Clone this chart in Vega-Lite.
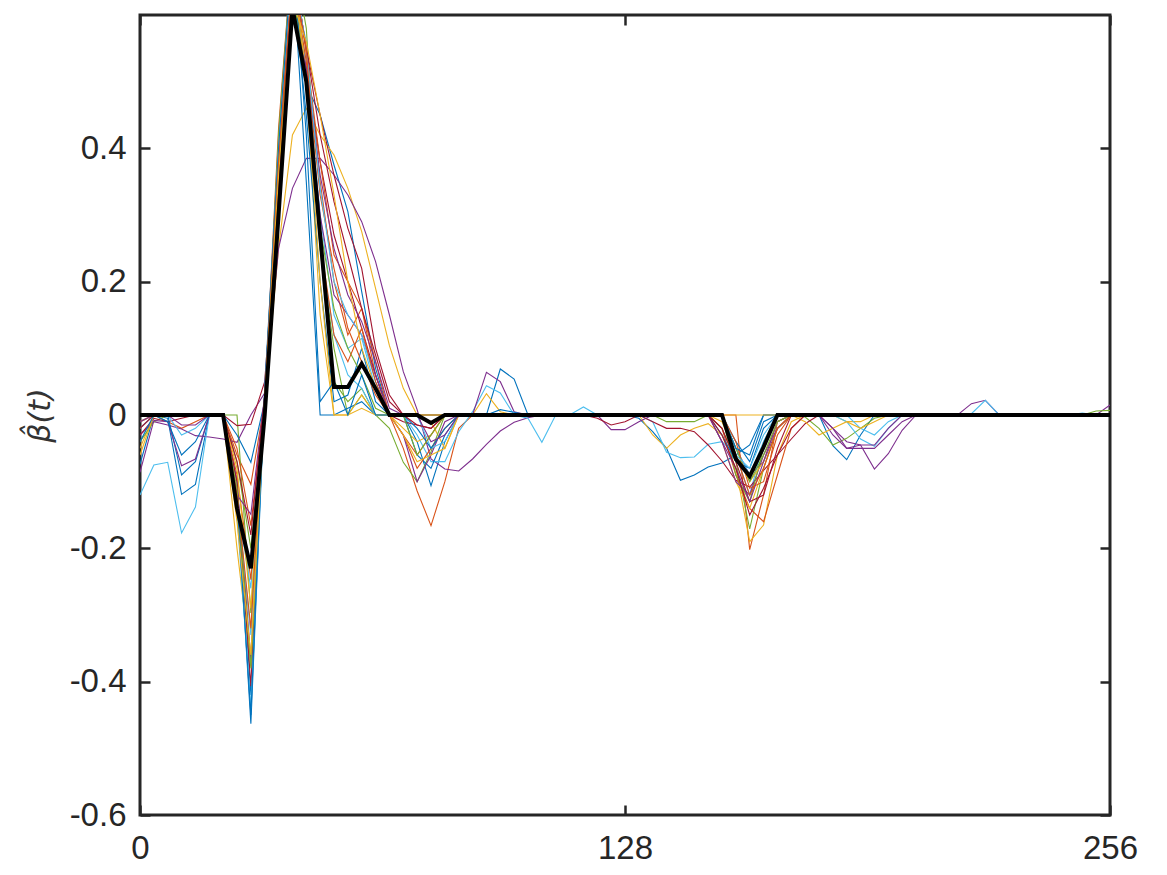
{
"$schema": "https://vega.github.io/schema/vega-lite/v6.json",
"width": 970, "height": 800,
"autosize": {"type": "none"},
"padding": {"left": 140, "top": 15, "right": 57, "bottom": 60},
"background": "white",
"config": {"view": {"stroke": "#262626", "strokeWidth": 3}},
"datasets": {
"curves": [
{"s":1,"t":0,"v":-0.074},{"s":1,"t":3.66,"v":0},{"s":1,"t":7.31,"v":-0.005},{"s":1,"t":10.97,"v":-0.119},{"s":1,"t":14.63,"v":-0.104},{"s":1,"t":18.29,"v":0},{"s":1,"t":21.94,"v":0},{"s":1,"t":25.6,"v":-0.12},{"s":1,"t":29.26,"v":-0.463},{"s":1,"t":32.91,"v":0.03},{"s":1,"t":36.57,"v":0.35},{"s":1,"t":40.23,"v":0.7},{"s":1,"t":43.89,"v":0.495},{"s":1,"t":47.54,"v":0.45},{"s":1,"t":51.2,"v":0.375},{"s":1,"t":54.86,"v":0.305},{"s":1,"t":58.51,"v":0.185},{"s":1,"t":62.17,"v":0.07},{"s":1,"t":65.83,"v":0},{"s":1,"t":69.49,"v":0},{"s":1,"t":73.14,"v":-0.04},{"s":1,"t":76.8,"v":-0.106},{"s":1,"t":80.46,"v":-0.04},{"s":1,"t":84.11,"v":0},{"s":1,"t":91.43,"v":0},{"s":1,"t":95.09,"v":0.069},{"s":1,"t":98.74,"v":0.054},{"s":1,"t":102.4,"v":0},{"s":1,"t":128,"v":0},{"s":1,"t":131.66,"v":-0.005},{"s":1,"t":135.31,"v":-0.025},{"s":1,"t":138.97,"v":-0.05},{"s":1,"t":142.63,"v":-0.098},{"s":1,"t":146.29,"v":-0.09},{"s":1,"t":149.94,"v":-0.078},{"s":1,"t":153.6,"v":-0.072},{"s":1,"t":157.26,"v":-0.06},{"s":1,"t":160.91,"v":-0.045},{"s":1,"t":164.57,"v":0},{"s":1,"t":179.2,"v":0},{"s":1,"t":182.86,"v":-0.046},{"s":1,"t":186.51,"v":-0.067},{"s":1,"t":190.17,"v":-0.03},{"s":1,"t":193.83,"v":0},{"s":1,"t":256,"v":0},
{"s":2,"t":0,"v":-0.02},{"s":2,"t":3.66,"v":0},{"s":2,"t":7.31,"v":-0.01},{"s":2,"t":10.97,"v":-0.02},{"s":2,"t":14.63,"v":-0.01},{"s":2,"t":18.29,"v":0},{"s":2,"t":21.94,"v":0},{"s":2,"t":25.6,"v":-0.06},{"s":2,"t":29.26,"v":-0.104},{"s":2,"t":32.91,"v":0.02},{"s":2,"t":36.57,"v":0.4},{"s":2,"t":40.23,"v":0.68},{"s":2,"t":43.89,"v":0.55},{"s":2,"t":47.54,"v":0.35},{"s":2,"t":51.2,"v":0.2},{"s":2,"t":54.86,"v":0.12},{"s":2,"t":58.51,"v":0.16},{"s":2,"t":62.17,"v":0.06},{"s":2,"t":65.83,"v":0},{"s":2,"t":69.49,"v":-0.05},{"s":2,"t":73.14,"v":-0.114},{"s":2,"t":76.8,"v":-0.166},{"s":2,"t":80.46,"v":-0.1},{"s":2,"t":84.11,"v":-0.02},{"s":2,"t":87.77,"v":0},{"s":2,"t":157.26,"v":0},{"s":2,"t":160.91,"v":-0.202},{"s":2,"t":164.57,"v":-0.12},{"s":2,"t":168.23,"v":-0.01},{"s":2,"t":171.89,"v":0},{"s":2,"t":256,"v":0},
{"s":3,"t":0,"v":-0.05},{"s":3,"t":3.66,"v":0},{"s":3,"t":21.94,"v":0},{"s":3,"t":25.6,"v":-0.15},{"s":3,"t":29.26,"v":-0.322},{"s":3,"t":32.91,"v":0.02},{"s":3,"t":36.57,"v":0.25},{"s":3,"t":40.23,"v":0.42},{"s":3,"t":43.89,"v":0.46},{"s":3,"t":47.54,"v":0.42},{"s":3,"t":51.2,"v":0.39},{"s":3,"t":54.86,"v":0.34},{"s":3,"t":58.51,"v":0.275},{"s":3,"t":62.17,"v":0.19},{"s":3,"t":65.83,"v":0.104},{"s":3,"t":69.49,"v":0.04},{"s":3,"t":73.14,"v":0},{"s":3,"t":76.8,"v":-0.01},{"s":3,"t":80.46,"v":-0.05},{"s":3,"t":84.11,"v":0},{"s":3,"t":87.77,"v":0},{"s":3,"t":91.43,"v":0.032},{"s":3,"t":95.09,"v":0.005},{"s":3,"t":98.74,"v":0},{"s":3,"t":131.66,"v":0},{"s":3,"t":135.31,"v":-0.03},{"s":3,"t":138.97,"v":-0.05},{"s":3,"t":142.63,"v":-0.03},{"s":3,"t":146.29,"v":-0.02},{"s":3,"t":149.94,"v":-0.013},{"s":3,"t":153.6,"v":-0.03},{"s":3,"t":157.26,"v":-0.08},{"s":3,"t":160.91,"v":-0.19},{"s":3,"t":164.57,"v":-0.165},{"s":3,"t":168.23,"v":-0.06},{"s":3,"t":171.89,"v":-0.01},{"s":3,"t":175.54,"v":0},{"s":3,"t":182.86,"v":0},{"s":3,"t":186.51,"v":-0.01},{"s":3,"t":190.17,"v":-0.01},{"s":3,"t":193.83,"v":0},{"s":3,"t":256,"v":0},
{"s":4,"t":0,"v":-0.03},{"s":4,"t":3.66,"v":-0.01},{"s":4,"t":7.31,"v":-0.015},{"s":4,"t":10.97,"v":-0.021},{"s":4,"t":14.63,"v":-0.031},{"s":4,"t":18.29,"v":-0.033},{"s":4,"t":21.94,"v":-0.036},{"s":4,"t":25.6,"v":-0.041},{"s":4,"t":29.26,"v":0},{"s":4,"t":32.91,"v":0.033},{"s":4,"t":36.57,"v":0.25},{"s":4,"t":40.23,"v":0.34},{"s":4,"t":43.89,"v":0.385},{"s":4,"t":47.54,"v":0.385},{"s":4,"t":51.2,"v":0.36},{"s":4,"t":54.86,"v":0.33},{"s":4,"t":58.51,"v":0.29},{"s":4,"t":62.17,"v":0.23},{"s":4,"t":65.83,"v":0.15},{"s":4,"t":69.49,"v":0.065},{"s":4,"t":73.14,"v":0.008},{"s":4,"t":76.8,"v":-0.066},{"s":4,"t":80.46,"v":-0.081},{"s":4,"t":84.11,"v":-0.084},{"s":4,"t":87.77,"v":-0.066},{"s":4,"t":91.43,"v":-0.044},{"s":4,"t":95.09,"v":-0.024},{"s":4,"t":98.74,"v":-0.011},{"s":4,"t":102.4,"v":-0.004},{"s":4,"t":106.06,"v":0},{"s":4,"t":120.69,"v":0},{"s":4,"t":124.34,"v":-0.022},{"s":4,"t":128,"v":-0.022},{"s":4,"t":131.66,"v":-0.01},{"s":4,"t":135.31,"v":0},{"s":4,"t":153.6,"v":0},{"s":4,"t":157.26,"v":-0.05},{"s":4,"t":160.91,"v":-0.09},{"s":4,"t":164.57,"v":-0.07},{"s":4,"t":168.23,"v":-0.02},{"s":4,"t":171.89,"v":0},{"s":4,"t":179.2,"v":0},{"s":4,"t":182.86,"v":-0.02},{"s":4,"t":186.51,"v":-0.04},{"s":4,"t":190.17,"v":-0.045},{"s":4,"t":193.83,"v":-0.081},{"s":4,"t":197.49,"v":-0.058},{"s":4,"t":201.14,"v":-0.023},{"s":4,"t":204.8,"v":0},{"s":4,"t":215.77,"v":0},{"s":4,"t":219.43,"v":0.017},{"s":4,"t":223.09,"v":0.022},{"s":4,"t":226.74,"v":0},{"s":4,"t":252.34,"v":0},{"s":4,"t":256,"v":0.015},
{"s":5,"t":0,"v":-0.04},{"s":5,"t":3.66,"v":-0.01},{"s":5,"t":7.31,"v":0},{"s":5,"t":25.6,"v":0},{"s":5,"t":29.26,"v":-0.297},{"s":5,"t":32.91,"v":0.02},{"s":5,"t":36.57,"v":0.38},{"s":5,"t":40.23,"v":0.66},{"s":5,"t":43.89,"v":0.5},{"s":5,"t":47.54,"v":0.25},{"s":5,"t":51.2,"v":0.1},{"s":5,"t":54.86,"v":0},{"s":5,"t":58.51,"v":0.03},{"s":5,"t":62.17,"v":0},{"s":5,"t":65.83,"v":-0.02},{"s":5,"t":69.49,"v":-0.071},{"s":5,"t":73.14,"v":-0.1},{"s":5,"t":76.8,"v":-0.055},{"s":5,"t":80.46,"v":0},{"s":5,"t":135.31,"v":0},{"s":5,"t":138.97,"v":-0.01},{"s":5,"t":146.29,"v":-0.01},{"s":5,"t":149.94,"v":0},{"s":5,"t":153.6,"v":-0.02},{"s":5,"t":157.26,"v":-0.07},{"s":5,"t":160.91,"v":-0.171},{"s":5,"t":164.57,"v":-0.08},{"s":5,"t":168.23,"v":-0.02},{"s":5,"t":171.89,"v":0},{"s":5,"t":175.54,"v":-0.003},{"s":5,"t":179.2,"v":-0.02},{"s":5,"t":182.86,"v":-0.045},{"s":5,"t":186.51,"v":-0.035},{"s":5,"t":190.17,"v":-0.02},{"s":5,"t":193.83,"v":-0.005},{"s":5,"t":197.49,"v":0},{"s":5,"t":248.69,"v":0},{"s":5,"t":252.34,"v":0.006},{"s":5,"t":256,"v":0.007},
{"s":6,"t":0,"v":-0.12},{"s":6,"t":3.66,"v":-0.075},{"s":6,"t":7.31,"v":-0.071},{"s":6,"t":10.97,"v":-0.177},{"s":6,"t":14.63,"v":-0.138},{"s":6,"t":18.29,"v":0},{"s":6,"t":21.94,"v":0},{"s":6,"t":25.6,"v":-0.13},{"s":6,"t":29.26,"v":-0.26},{"s":6,"t":32.91,"v":0.03},{"s":6,"t":36.57,"v":0.35},{"s":6,"t":40.23,"v":0.68},{"s":6,"t":43.89,"v":0.52},{"s":6,"t":47.54,"v":0.3},{"s":6,"t":51.2,"v":0.15},{"s":6,"t":54.86,"v":0.1},{"s":6,"t":58.51,"v":0.115},{"s":6,"t":62.17,"v":0.04},{"s":6,"t":65.83,"v":0},{"s":6,"t":69.49,"v":0},{"s":6,"t":73.14,"v":-0.03},{"s":6,"t":76.8,"v":-0.07},{"s":6,"t":80.46,"v":-0.07},{"s":6,"t":84.11,"v":-0.025},{"s":6,"t":87.77,"v":0.005},{"s":6,"t":91.43,"v":0.044},{"s":6,"t":95.09,"v":0.033},{"s":6,"t":98.74,"v":0},{"s":6,"t":102.4,"v":-0.005},{"s":6,"t":106.06,"v":-0.041},{"s":6,"t":109.71,"v":0},{"s":6,"t":113.37,"v":0},{"s":6,"t":117.03,"v":0.012},{"s":6,"t":120.69,"v":0},{"s":6,"t":131.66,"v":0},{"s":6,"t":135.31,"v":-0.01},{"s":6,"t":138.97,"v":-0.056},{"s":6,"t":142.63,"v":-0.064},{"s":6,"t":146.29,"v":-0.063},{"s":6,"t":149.94,"v":-0.044},{"s":6,"t":153.6,"v":-0.04},{"s":6,"t":157.26,"v":-0.06},{"s":6,"t":160.91,"v":-0.12},{"s":6,"t":164.57,"v":-0.04},{"s":6,"t":168.23,"v":0},{"s":6,"t":182.86,"v":0},{"s":6,"t":186.51,"v":-0.01},{"s":6,"t":190.17,"v":-0.036},{"s":6,"t":193.83,"v":-0.047},{"s":6,"t":197.49,"v":-0.02},{"s":6,"t":201.14,"v":0},{"s":6,"t":215.77,"v":0},{"s":6,"t":219.43,"v":0.002},{"s":6,"t":223.09,"v":0.022},{"s":6,"t":226.74,"v":0},{"s":6,"t":245.03,"v":0},{"s":6,"t":248.69,"v":0.003},{"s":6,"t":252.34,"v":0},{"s":6,"t":256,"v":0},
{"s":7,"t":0,"v":-0.03},{"s":7,"t":3.66,"v":-0.005},{"s":7,"t":7.31,"v":-0.01},{"s":7,"t":10.97,"v":-0.005},{"s":7,"t":14.63,"v":0},{"s":7,"t":21.94,"v":0},{"s":7,"t":25.6,"v":-0.016},{"s":7,"t":29.26,"v":-0.014},{"s":7,"t":32.91,"v":0.05},{"s":7,"t":36.57,"v":0.33},{"s":7,"t":40.23,"v":0.62},{"s":7,"t":43.89,"v":0.52},{"s":7,"t":47.54,"v":0.38},{"s":7,"t":51.2,"v":0.27},{"s":7,"t":54.86,"v":0.2},{"s":7,"t":58.51,"v":0.13},{"s":7,"t":62.17,"v":0.06},{"s":7,"t":65.83,"v":0},{"s":7,"t":69.49,"v":-0.01},{"s":7,"t":73.14,"v":-0.015},{"s":7,"t":76.8,"v":-0.02},{"s":7,"t":80.46,"v":0},{"s":7,"t":117.03,"v":0},{"s":7,"t":120.69,"v":-0.005},{"s":7,"t":124.34,"v":-0.015},{"s":7,"t":128,"v":-0.01},{"s":7,"t":131.66,"v":0},{"s":7,"t":135.31,"v":-0.01},{"s":7,"t":138.97,"v":-0.02},{"s":7,"t":142.63,"v":-0.02},{"s":7,"t":146.29,"v":-0.025},{"s":7,"t":149.94,"v":-0.045},{"s":7,"t":153.6,"v":-0.069},{"s":7,"t":157.26,"v":-0.098},{"s":7,"t":160.91,"v":-0.108},{"s":7,"t":164.57,"v":-0.083},{"s":7,"t":168.23,"v":-0.06},{"s":7,"t":171.89,"v":-0.036},{"s":7,"t":175.54,"v":-0.013},{"s":7,"t":179.2,"v":0},{"s":7,"t":256,"v":0},
{"s":8,"t":0,"v":-0.01},{"s":8,"t":3.66,"v":0},{"s":8,"t":7.31,"v":0},{"s":8,"t":10.97,"v":-0.09},{"s":8,"t":14.63,"v":-0.07},{"s":8,"t":18.29,"v":0},{"s":8,"t":21.94,"v":0},{"s":8,"t":25.6,"v":-0.1},{"s":8,"t":29.26,"v":-0.42},{"s":8,"t":32.91,"v":0.03},{"s":8,"t":36.57,"v":0.4},{"s":8,"t":40.23,"v":0.68},{"s":8,"t":43.89,"v":0.35},{"s":8,"t":47.54,"v":0},{"s":8,"t":51.2,"v":0},{"s":8,"t":54.86,"v":0.01},{"s":8,"t":58.51,"v":0.02},{"s":8,"t":62.17,"v":0},{"s":8,"t":69.49,"v":0},{"s":8,"t":73.14,"v":-0.06},{"s":8,"t":76.8,"v":-0.08},{"s":8,"t":80.46,"v":-0.03},{"s":8,"t":84.11,"v":0},{"s":8,"t":153.6,"v":0},{"s":8,"t":157.26,"v":-0.04},{"s":8,"t":160.91,"v":-0.07},{"s":8,"t":164.57,"v":-0.01},{"s":8,"t":168.23,"v":0},{"s":8,"t":256,"v":0},
{"s":9,"t":0,"v":0},{"s":9,"t":21.94,"v":0},{"s":9,"t":25.6,"v":-0.09},{"s":9,"t":29.26,"v":-0.247},{"s":9,"t":32.91,"v":0.02},{"s":9,"t":36.57,"v":0.43},{"s":9,"t":40.23,"v":0.7},{"s":9,"t":43.89,"v":0.54},{"s":9,"t":47.54,"v":0.38},{"s":9,"t":51.2,"v":0.24},{"s":9,"t":54.86,"v":0.2},{"s":9,"t":58.51,"v":0.16},{"s":9,"t":62.17,"v":0.08},{"s":9,"t":65.83,"v":0},{"s":9,"t":69.49,"v":-0.03},{"s":9,"t":73.14,"v":-0.08},{"s":9,"t":76.8,"v":-0.05},{"s":9,"t":80.46,"v":-0.02},{"s":9,"t":84.11,"v":0},{"s":9,"t":149.94,"v":0},{"s":9,"t":153.6,"v":-0.02},{"s":9,"t":157.26,"v":-0.09},{"s":9,"t":160.91,"v":-0.14},{"s":9,"t":164.57,"v":-0.16},{"s":9,"t":168.23,"v":-0.09},{"s":9,"t":171.89,"v":-0.02},{"s":9,"t":175.54,"v":0},{"s":9,"t":256,"v":0},
{"s":10,"t":0,"v":-0.06},{"s":10,"t":3.66,"v":0},{"s":10,"t":21.94,"v":0},{"s":10,"t":25.6,"v":-0.2},{"s":10,"t":29.26,"v":-0.377},{"s":10,"t":32.91,"v":0.02},{"s":10,"t":36.57,"v":0.38},{"s":10,"t":40.23,"v":0.66},{"s":10,"t":43.89,"v":0.5},{"s":10,"t":47.54,"v":0.15},{"s":10,"t":51.2,"v":0},{"s":10,"t":54.86,"v":0},{"s":10,"t":58.51,"v":0.03},{"s":10,"t":62.17,"v":0},{"s":10,"t":65.83,"v":0},{"s":10,"t":69.49,"v":-0.02},{"s":10,"t":73.14,"v":-0.04},{"s":10,"t":76.8,"v":-0.03},{"s":10,"t":80.46,"v":0},{"s":10,"t":149.94,"v":0},{"s":10,"t":153.6,"v":-0.04},{"s":10,"t":157.26,"v":-0.1},{"s":10,"t":160.91,"v":-0.14},{"s":10,"t":164.57,"v":-0.08},{"s":10,"t":168.23,"v":-0.02},{"s":10,"t":171.89,"v":0},{"s":10,"t":256,"v":0},
{"s":11,"t":0,"v":-0.086},{"s":11,"t":3.66,"v":-0.008},{"s":11,"t":7.31,"v":-0.01},{"s":11,"t":10.97,"v":-0.076},{"s":11,"t":14.63,"v":-0.066},{"s":11,"t":18.29,"v":0},{"s":11,"t":21.94,"v":0},{"s":11,"t":25.6,"v":-0.1},{"s":11,"t":29.26,"v":-0.367},{"s":11,"t":32.91,"v":0.03},{"s":11,"t":36.57,"v":0.35},{"s":11,"t":40.23,"v":0.64},{"s":11,"t":43.89,"v":0.5},{"s":11,"t":47.54,"v":0.3},{"s":11,"t":51.2,"v":0.18},{"s":11,"t":54.86,"v":0.15},{"s":11,"t":58.51,"v":0.12},{"s":11,"t":62.17,"v":0.06},{"s":11,"t":65.83,"v":0},{"s":11,"t":69.49,"v":-0.03},{"s":11,"t":73.14,"v":-0.1},{"s":11,"t":76.8,"v":-0.06},{"s":11,"t":80.46,"v":-0.01},{"s":11,"t":84.11,"v":0},{"s":11,"t":87.77,"v":0},{"s":11,"t":91.43,"v":0.064},{"s":11,"t":95.09,"v":0.05},{"s":11,"t":98.74,"v":0.005},{"s":11,"t":102.4,"v":0},{"s":11,"t":149.94,"v":0},{"s":11,"t":153.6,"v":-0.04},{"s":11,"t":157.26,"v":-0.1},{"s":11,"t":160.91,"v":-0.12},{"s":11,"t":164.57,"v":-0.06},{"s":11,"t":168.23,"v":-0.02},{"s":11,"t":171.89,"v":0},{"s":11,"t":179.2,"v":0},{"s":11,"t":182.86,"v":-0.03},{"s":11,"t":186.51,"v":-0.05},{"s":11,"t":190.17,"v":-0.05},{"s":11,"t":193.83,"v":-0.05},{"s":11,"t":197.49,"v":-0.03},{"s":11,"t":201.14,"v":-0.01},{"s":11,"t":204.8,"v":0},{"s":11,"t":256,"v":0},
{"s":12,"t":0,"v":0},{"s":12,"t":21.94,"v":0},{"s":12,"t":25.6,"v":-0.07},{"s":12,"t":29.26,"v":-0.2},{"s":12,"t":32.91,"v":0.01},{"s":12,"t":36.57,"v":0.42},{"s":12,"t":40.23,"v":0.7},{"s":12,"t":43.89,"v":0.58},{"s":12,"t":47.54,"v":0.25},{"s":12,"t":51.2,"v":0.05},{"s":12,"t":54.86,"v":0.02},{"s":12,"t":58.51,"v":0.04},{"s":12,"t":62.17,"v":0},{"s":12,"t":153.6,"v":0},{"s":12,"t":157.26,"v":-0.09},{"s":12,"t":160.91,"v":-0.13},{"s":12,"t":164.57,"v":-0.05},{"s":12,"t":168.23,"v":0},{"s":12,"t":256,"v":0},
{"s":13,"t":0,"v":-0.02},{"s":13,"t":3.66,"v":0},{"s":13,"t":7.31,"v":0},{"s":13,"t":10.97,"v":-0.03},{"s":13,"t":14.63,"v":-0.02},{"s":13,"t":18.29,"v":0},{"s":13,"t":21.94,"v":0},{"s":13,"t":25.6,"v":-0.12},{"s":13,"t":29.26,"v":-0.33},{"s":13,"t":32.91,"v":0.03},{"s":13,"t":36.57,"v":0.37},{"s":13,"t":40.23,"v":0.65},{"s":13,"t":43.89,"v":0.56},{"s":13,"t":47.54,"v":0.25},{"s":13,"t":51.2,"v":0.12},{"s":13,"t":54.86,"v":0.06},{"s":13,"t":58.51,"v":0.04},{"s":13,"t":62.17,"v":0},{"s":13,"t":73.14,"v":0},{"s":13,"t":76.8,"v":-0.05},{"s":13,"t":80.46,"v":-0.04},{"s":13,"t":84.11,"v":0},{"s":13,"t":153.6,"v":0},{"s":13,"t":157.26,"v":-0.05},{"s":13,"t":160.91,"v":-0.09},{"s":13,"t":164.57,"v":-0.04},{"s":13,"t":168.23,"v":0},{"s":13,"t":186.51,"v":0},{"s":13,"t":190.17,"v":-0.02},{"s":13,"t":193.83,"v":-0.03},{"s":13,"t":197.49,"v":-0.01},{"s":13,"t":201.14,"v":0},{"s":13,"t":256,"v":0},
{"s":14,"t":0,"v":-0.02},{"s":14,"t":3.66,"v":0},{"s":14,"t":21.94,"v":0},{"s":14,"t":25.6,"v":-0.1},{"s":14,"t":29.26,"v":-0.407},{"s":14,"t":32.91,"v":0.03},{"s":14,"t":36.57,"v":0.38},{"s":14,"t":40.23,"v":0.68},{"s":14,"t":43.89,"v":0.55},{"s":14,"t":47.54,"v":0.42},{"s":14,"t":51.2,"v":0.32},{"s":14,"t":54.86,"v":0.24},{"s":14,"t":58.51,"v":0.16},{"s":14,"t":62.17,"v":0.09},{"s":14,"t":65.83,"v":0.02},{"s":14,"t":69.49,"v":0},{"s":14,"t":73.14,"v":0},{"s":14,"t":76.8,"v":-0.01},{"s":14,"t":80.46,"v":0},{"s":14,"t":149.94,"v":0},{"s":14,"t":153.6,"v":-0.02},{"s":14,"t":157.26,"v":-0.07},{"s":14,"t":160.91,"v":-0.13},{"s":14,"t":164.57,"v":-0.12},{"s":14,"t":168.23,"v":-0.05},{"s":14,"t":171.89,"v":0},{"s":14,"t":256,"v":0},
{"s":15,"t":0,"v":-0.04},{"s":15,"t":3.66,"v":0},{"s":15,"t":7.31,"v":-0.01},{"s":15,"t":10.97,"v":-0.06},{"s":15,"t":14.63,"v":-0.04},{"s":15,"t":18.29,"v":0},{"s":15,"t":21.94,"v":0},{"s":15,"t":25.6,"v":-0.03},{"s":15,"t":29.26,"v":-0.071},{"s":15,"t":32.91,"v":0.02},{"s":15,"t":36.57,"v":0.3},{"s":15,"t":40.23,"v":0.65},{"s":15,"t":43.89,"v":0.45},{"s":15,"t":47.54,"v":0.2},{"s":15,"t":51.2,"v":0.02},{"s":15,"t":54.86,"v":0.03},{"s":15,"t":58.51,"v":0.1},{"s":15,"t":62.17,"v":0.02},{"s":15,"t":65.83,"v":0},{"s":15,"t":69.49,"v":0},{"s":15,"t":73.14,"v":-0.02},{"s":15,"t":76.8,"v":-0.05},{"s":15,"t":80.46,"v":-0.02},{"s":15,"t":84.11,"v":0},{"s":15,"t":91.43,"v":0},{"s":15,"t":95.09,"v":0.008},{"s":15,"t":98.74,"v":0.004},{"s":15,"t":102.4,"v":0},{"s":15,"t":149.94,"v":0},{"s":15,"t":153.6,"v":-0.03},{"s":15,"t":157.26,"v":-0.07},{"s":15,"t":160.91,"v":-0.08},{"s":15,"t":164.57,"v":-0.02},{"s":15,"t":168.23,"v":0},{"s":15,"t":256,"v":0},
{"s":16,"t":0,"v":-0.01},{"s":16,"t":3.66,"v":0},{"s":16,"t":21.94,"v":0},{"s":16,"t":25.6,"v":-0.05},{"s":16,"t":29.26,"v":-0.166},{"s":16,"t":32.91,"v":0.02},{"s":16,"t":36.57,"v":0.36},{"s":16,"t":40.23,"v":0.66},{"s":16,"t":43.89,"v":0.53},{"s":16,"t":47.54,"v":0.33},{"s":16,"t":51.2,"v":0.22},{"s":16,"t":54.86,"v":0.13},{"s":16,"t":58.51,"v":0.08},{"s":16,"t":62.17,"v":0.03},{"s":16,"t":65.83,"v":0},{"s":16,"t":69.49,"v":-0.03},{"s":16,"t":73.14,"v":-0.06},{"s":16,"t":76.8,"v":-0.03},{"s":16,"t":80.46,"v":0},{"s":16,"t":153.6,"v":0},{"s":16,"t":157.26,"v":-0.04},{"s":16,"t":160.91,"v":-0.11},{"s":16,"t":164.57,"v":-0.1},{"s":16,"t":168.23,"v":-0.03},{"s":16,"t":171.89,"v":0},{"s":16,"t":256,"v":0},
{"s":17,"t":0,"v":-0.01},{"s":17,"t":3.66,"v":0},{"s":17,"t":21.94,"v":0},{"s":17,"t":25.6,"v":-0.08},{"s":17,"t":29.26,"v":-0.29},{"s":17,"t":32.91,"v":0.02},{"s":17,"t":36.57,"v":0.4},{"s":17,"t":40.23,"v":0.7},{"s":17,"t":43.89,"v":0.5},{"s":17,"t":47.54,"v":0.2},{"s":17,"t":51.2,"v":0},{"s":17,"t":54.86,"v":0},{"s":17,"t":58.51,"v":0.01},{"s":17,"t":62.17,"v":0},{"s":17,"t":65.83,"v":0},{"s":17,"t":69.49,"v":-0.03},{"s":17,"t":73.14,"v":-0.07},{"s":17,"t":76.8,"v":-0.06},{"s":17,"t":80.46,"v":-0.05},{"s":17,"t":84.11,"v":0},{"s":17,"t":149.94,"v":0},{"s":17,"t":153.6,"v":-0.01},{"s":17,"t":157.26,"v":-0.06},{"s":17,"t":160.91,"v":-0.1},{"s":17,"t":164.57,"v":-0.07},{"s":17,"t":168.23,"v":-0.01},{"s":17,"t":171.89,"v":0},{"s":17,"t":175.54,"v":-0.01},{"s":17,"t":179.2,"v":-0.03},{"s":17,"t":182.86,"v":-0.02},{"s":17,"t":186.51,"v":-0.01},{"s":17,"t":190.17,"v":-0.02},{"s":17,"t":193.83,"v":-0.01},{"s":17,"t":197.49,"v":0},{"s":17,"t":256,"v":0},
{"s":18,"t":0,"v":-0.01},{"s":18,"t":3.66,"v":0},{"s":18,"t":7.31,"v":0},{"s":18,"t":10.97,"v":-0.015},{"s":18,"t":14.63,"v":-0.015},{"s":18,"t":18.29,"v":0},{"s":18,"t":21.94,"v":0},{"s":18,"t":25.6,"v":-0.12},{"s":18,"t":29.26,"v":-0.149},{"s":18,"t":32.91,"v":0.03},{"s":18,"t":36.57,"v":0.3},{"s":18,"t":40.23,"v":0.6},{"s":18,"t":43.89,"v":0.52},{"s":18,"t":47.54,"v":0.36},{"s":18,"t":51.2,"v":0.25},{"s":18,"t":54.86,"v":0.18},{"s":18,"t":58.51,"v":0.14},{"s":18,"t":62.17,"v":0.08},{"s":18,"t":65.83,"v":0.01},{"s":18,"t":69.49,"v":0},{"s":18,"t":73.14,"v":0},{"s":18,"t":76.8,"v":-0.04},{"s":18,"t":80.46,"v":-0.03},{"s":18,"t":84.11,"v":0},{"s":18,"t":149.94,"v":0},{"s":18,"t":153.6,"v":-0.04},{"s":18,"t":157.26,"v":-0.08},{"s":18,"t":160.91,"v":-0.13},{"s":18,"t":164.57,"v":-0.07},{"s":18,"t":168.23,"v":-0.01},{"s":18,"t":171.89,"v":0},{"s":18,"t":179.2,"v":0},{"s":18,"t":182.86,"v":-0.02},{"s":18,"t":186.51,"v":-0.05},{"s":18,"t":190.17,"v":-0.045},{"s":18,"t":193.83,"v":-0.045},{"s":18,"t":197.49,"v":-0.02},{"s":18,"t":201.14,"v":0},{"s":18,"t":256,"v":0},
{"s":19,"t":0,"v":0},{"s":19,"t":21.94,"v":0},{"s":19,"t":25.6,"v":-0.11},{"s":19,"t":29.26,"v":-0.38},{"s":19,"t":32.91,"v":0.02},{"s":19,"t":36.57,"v":0.36},{"s":19,"t":40.23,"v":0.64},{"s":19,"t":43.89,"v":0.5},{"s":19,"t":47.54,"v":0.28},{"s":19,"t":51.2,"v":0.16},{"s":19,"t":54.86,"v":0.1},{"s":19,"t":58.51,"v":0.06},{"s":19,"t":62.17,"v":0.01},{"s":19,"t":65.83,"v":0},{"s":19,"t":69.49,"v":0},{"s":19,"t":73.14,"v":-0.06},{"s":19,"t":76.8,"v":-0.03},{"s":19,"t":80.46,"v":0},{"s":19,"t":153.6,"v":0},{"s":19,"t":157.26,"v":-0.05},{"s":19,"t":160.91,"v":-0.1},{"s":19,"t":164.57,"v":-0.06},{"s":19,"t":168.23,"v":-0.01},{"s":19,"t":171.89,"v":0},{"s":19,"t":256,"v":0},
{"s":20,"t":0,"v":0},{"s":20,"t":21.94,"v":0},{"s":20,"t":25.6,"v":-0.15},{"s":20,"t":29.26,"v":-0.44},{"s":20,"t":32.91,"v":0.03},{"s":20,"t":36.57,"v":0.4},{"s":20,"t":40.23,"v":0.68},{"s":20,"t":43.89,"v":0.55},{"s":20,"t":47.54,"v":0.34},{"s":20,"t":51.2,"v":0.2},{"s":20,"t":54.86,"v":0.15},{"s":20,"t":58.51,"v":0.12},{"s":20,"t":62.17,"v":0.05},{"s":20,"t":65.83,"v":0},{"s":20,"t":153.6,"v":0},{"s":20,"t":157.26,"v":-0.06},{"s":20,"t":160.91,"v":-0.08},{"s":20,"t":164.57,"v":-0.03},{"s":20,"t":168.23,"v":0},{"s":20,"t":256,"v":0},
{"s":21,"t":0,"v":0},{"s":21,"t":21.94,"v":0},{"s":21,"t":25.6,"v":-0.07},{"s":21,"t":29.26,"v":-0.18},{"s":21,"t":32.91,"v":0.03},{"s":21,"t":36.57,"v":0.34},{"s":21,"t":40.23,"v":0.66},{"s":21,"t":43.89,"v":0.55},{"s":21,"t":47.54,"v":0.45},{"s":21,"t":51.2,"v":0.36},{"s":21,"t":54.86,"v":0.28},{"s":21,"t":58.51,"v":0.22},{"s":21,"t":62.17,"v":0.1},{"s":21,"t":65.83,"v":0.03},{"s":21,"t":69.49,"v":0},{"s":21,"t":73.14,"v":-0.015},{"s":21,"t":76.8,"v":-0.02},{"s":21,"t":80.46,"v":0},{"s":21,"t":149.94,"v":0},{"s":21,"t":153.6,"v":-0.03},{"s":21,"t":157.26,"v":-0.08},{"s":21,"t":160.91,"v":-0.15},{"s":21,"t":164.57,"v":-0.11},{"s":21,"t":168.23,"v":-0.06},{"s":21,"t":171.89,"v":-0.02},{"s":21,"t":175.54,"v":0},{"s":21,"t":256,"v":0},
{"s":22,"t":0,"v":0},{"s":22,"t":21.94,"v":0},{"s":22,"t":25.6,"v":-0.13},{"s":22,"t":29.26,"v":-0.45},{"s":22,"t":32.91,"v":0.04},{"s":22,"t":36.57,"v":0.4},{"s":22,"t":40.23,"v":0.7},{"s":22,"t":43.89,"v":0.42},{"s":22,"t":47.54,"v":0.02},{"s":22,"t":51.2,"v":0.05},{"s":22,"t":54.86,"v":0},{"s":22,"t":58.51,"v":0.06},{"s":22,"t":62.17,"v":0},{"s":22,"t":153.6,"v":0},{"s":22,"t":157.26,"v":-0.05},{"s":22,"t":160.91,"v":-0.06},{"s":22,"t":164.57,"v":0},{"s":22,"t":256,"v":0},
{"s":23,"t":0,"v":0},{"s":23,"t":21.94,"v":0},{"s":23,"t":25.6,"v":-0.12},{"s":23,"t":29.26,"v":-0.32},{"s":23,"t":32.91,"v":0.03},{"s":23,"t":36.57,"v":0.38},{"s":23,"t":40.23,"v":0.66},{"s":23,"t":43.89,"v":0.55},{"s":23,"t":47.54,"v":0.26},{"s":23,"t":51.2,"v":0.12},{"s":23,"t":54.86,"v":0.08},{"s":23,"t":58.51,"v":0.13},{"s":23,"t":62.17,"v":0.05},{"s":23,"t":65.83,"v":0},{"s":23,"t":153.6,"v":0},{"s":23,"t":157.26,"v":-0.06},{"s":23,"t":160.91,"v":-0.12},{"s":23,"t":164.57,"v":-0.08},{"s":23,"t":168.23,"v":-0.02},{"s":23,"t":171.89,"v":0},{"s":23,"t":256,"v":0},
{"s":24,"t":0,"v":0},{"s":24,"t":21.94,"v":0},{"s":24,"t":25.6,"v":-0.16},{"s":24,"t":29.26,"v":-0.36},{"s":24,"t":32.91,"v":0.02},{"s":24,"t":36.57,"v":0.36},{"s":24,"t":40.23,"v":0.62},{"s":24,"t":43.89,"v":0.56},{"s":24,"t":47.54,"v":0.45},{"s":24,"t":51.2,"v":0.33},{"s":24,"t":54.86,"v":0.2},{"s":24,"t":58.51,"v":0.1},{"s":24,"t":62.17,"v":0.04},{"s":24,"t":65.83,"v":0},{"s":24,"t":256,"v":0}
],
"mean": [
{"t":0,"v":0},{"t":21.94,"v":0},{"t":25.6,"v":-0.14},{"t":29.26,"v":-0.23},{"t":32.91,"v":0},{"t":36.57,"v":0.3},{"t":40.23,"v":0.61},{"t":43.89,"v":0.5},{"t":47.54,"v":0.27},{"t":51.2,"v":0.042},{"t":54.86,"v":0.042},{"t":58.51,"v":0.077},{"t":62.17,"v":0.04},{"t":65.83,"v":0},{"t":73.14,"v":0},{"t":76.8,"v":-0.012},{"t":80.46,"v":0},{"t":153.6,"v":0},{"t":157.26,"v":-0.066},{"t":160.91,"v":-0.092},{"t":164.57,"v":-0.048},{"t":168.23,"v":0},{"t":256,"v":0}
]
},
"layer": [
{
"data": {"name": "curves"},
"mark": {"type": "line", "strokeWidth": 1.1, "clip": true},
"encoding": {
"x": {"field": "t", "type": "quantitative", "scale": {"domain": [0, 256], "nice": false, "zero": false},
 "axis": {"orient": "bottom", "values": [0, 128, 256], "title": null, "grid": false, "domain": false, "tickSize": -10, "tickWidth": 2.5, "tickColor": "#262626", "labelExpr": "toString(datum.value)", "labelFont": "Liberation Sans", "labelFontSize": 33, "labelColor": "#262626", "labelPadding": 27, "labelFlush": false, "labelOverlap": false}},
"y": {"field": "v", "type": "quantitative", "scale": {"domain": [-0.6, 0.6], "nice": false, "zero": false},
 "axis": {"orient": "left", "values": [-0.6, -0.4, -0.2, 0, 0.2, 0.4], "title": "\u03b2\u0302(t)", "titleFont": "DejaVu Sans", "titleFontStyle": "italic", "titleFontWeight": "normal", "titleFontSize": 30, "titleColor": "#333333", "titlePadding": 14, "grid": false, "domain": false, "tickSize": -10, "tickWidth": 2.5, "tickColor": "#262626", "labelExpr": "toString(datum.value)", "labelFont": "Liberation Sans", "labelFontSize": 33, "labelColor": "#262626", "labelPadding": 24, "labelOverlap": false, "labelFlush": false}},
"color": {"field": "s", "type": "nominal", "legend": null,
 "scale": {"domain": [1,2,3,4,5,6,7,8,9,10,11,12,13,14,15,16,17,18,19,20,21,22,23,24],
 "range": ["#0072BD","#D95319","#EDB120","#7E2F8E","#77AC30","#4DBEEE","#A2142F","#0072BD","#D95319","#EDB120","#7E2F8E","#77AC30","#4DBEEE","#A2142F","#0072BD","#D95319","#EDB120","#7E2F8E","#77AC30","#4DBEEE","#A2142F","#0072BD","#D95319","#EDB120"]}}
}
},
{
"data": {"name": "mean"},
"mark": {"type": "line", "strokeWidth": 4, "color": "#000000", "clip": true},
"encoding": {
"x": {"field": "t", "type": "quantitative", "axis": {"orient": "top", "values": [0, 128, 256], "title": null, "labels": false, "grid": false, "domain": false, "tickSize": -10, "tickWidth": 2.5, "tickColor": "#262626"}},
"y": {"field": "v", "type": "quantitative", "axis": {"orient": "right", "values": [-0.6, -0.4, -0.2, 0, 0.2, 0.4], "title": null, "labels": false, "grid": false, "domain": false, "tickSize": -10, "tickWidth": 2.5, "tickColor": "#262626"}}
}
}
],
"resolve": {"axis": {"x": "independent", "y": "independent"}}
}
